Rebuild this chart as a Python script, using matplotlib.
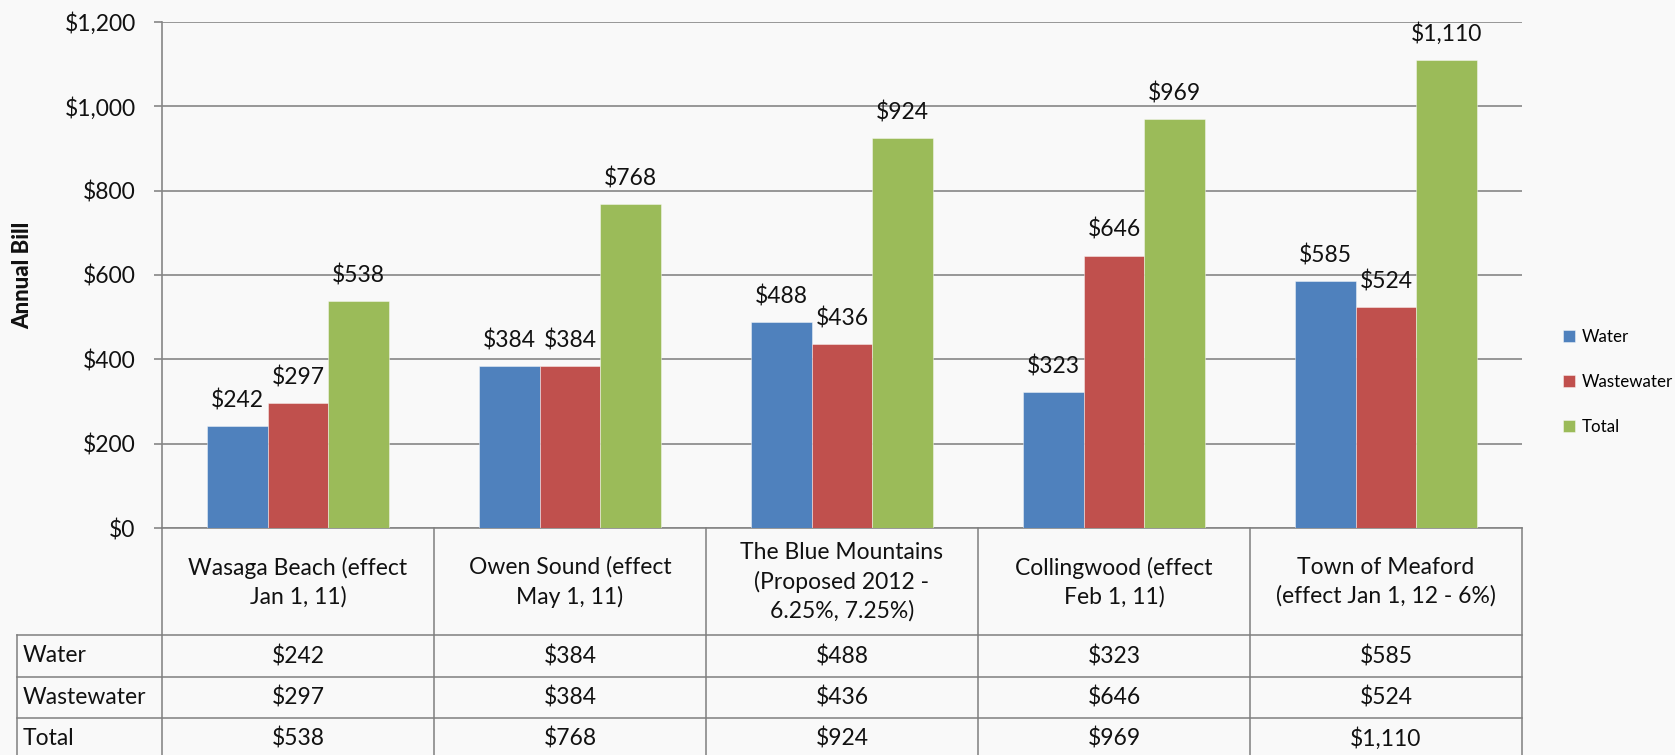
import matplotlib
matplotlib.use("Agg")
import matplotlib.pyplot as plt
import numpy as np

plt.rcParams['font.family'] = ['Lato', 'DejaVu Sans']

categories = ["Wasaga Beach (effect\nJan 1, 11)",
              "Owen Sound (effect\nMay 1, 11)",
              "The Blue Mountains\n(Proposed 2012 -\n6.25%, 7.25%)",
              "Collingwood (effect\nFeb 1, 11)",
              "Town of Meaford\n(effect Jan 1, 12 - 6%)"]
series_names = ["Water", "Wastewater", "Total"]
water = [242, 384, 488, 323, 585]
wastewater = [297, 384, 436, 646, 524]
total = [538, 768, 924, 969, 1110]
yticks = [0, 200, 400, 600, 800, 1000, 1200]

colors = ["#4F81BD", "#C0504D", "#9BBB59"]
bg = "#f9f9f9"
grid_c = "#868686"

W, H = 1675, 755
fig = plt.figure(figsize=(W / 100, H / 100), dpi=100, facecolor=bg)

# layout in pixels
ax_l, ax_r, ax_t, ax_b = 162, 1522, 22, 528
ax = fig.add_axes([ax_l / W, 1 - ax_b / H, (ax_r - ax_l) / W, (ax_b - ax_t) / H])
ax.set_facecolor(bg)

n = len(categories)
x = np.arange(n)
bw = 0.2224
all_series = [water, wastewater, total]
for i, (vals, c, name) in enumerate(zip(all_series, colors, series_names)):
    ax.bar(x + (i - 1) * bw, vals, width=bw, color=c, label=name,
           zorder=3, linewidth=0.6, edgecolor=(1, 1, 1, 0.5))
    for xi, v in zip(x + (i - 1) * bw, vals):
        ax.annotate("${:,}".format(v), (xi, v), xytext=(0, 13.5),
                    textcoords="offset points", ha="center", va="baseline",
                    fontsize=16.5, color="#111111", zorder=4)

ax.set_xlim(-0.5, n - 0.5)
ax.set_ylim(0, 1200)
ax.set_yticks(yticks)
ax.set_yticklabels(["${:,}".format(v) for v in yticks], fontsize=16.5, color="#111111")
ax.set_xticks([])
ax.yaxis.grid(True, color=grid_c, linewidth=1.2, zorder=0)
ax.set_axisbelow(True)
for s in ["top", "right"]:
    ax.spines[s].set_visible(False)
ax.spines["left"].set_color(grid_c)
ax.spines["left"].set_linewidth(1.2)
ax.spines["bottom"].set_color(grid_c)
ax.spines["bottom"].set_linewidth(1.2)
ax.tick_params(axis="y", length=6, width=1.2, color=grid_c, pad=13)

fig.text(23 / W, 1 - 275 / H, "Annual Bill", rotation=90, fontsize=16,
         fontweight="black", ha="center", va="center", color="#111111")

ax.legend(loc="center left", bbox_to_anchor=(1556 / W, 1 - 382 / H),
          bbox_transform=fig.transFigure, frameon=False, fontsize=12.2,
          handlelength=0.75, handleheight=0.75, handletextpad=0.35,
          labelspacing=1.7, borderaxespad=0)

# data table below
tab = fig.add_axes([0, 0, 1, 1], facecolor="none")
tab.set_xlim(0, W)
tab.set_ylim(H, 0)
tab.axis("off")
line_c = "#7f7f7f"
col_w = (ax_r - ax_l) / n
row_tops = [635, 677, 718, 759]
tab_left = 17
for y in row_tops:
    tab.plot([tab_left, ax_r], [y, y], color=line_c, lw=1.1, clip_on=False)
tab.plot([tab_left, tab_left], [row_tops[0], 760], color=line_c, lw=1.1, clip_on=False)
for k in range(n + 1):
    xe = ax_l + k * col_w
    tab.plot([xe, xe], [ax_b, 760], color=line_c, lw=1.1, clip_on=False)
for k, cat in enumerate(categories):
    xc = ax_l + (k + 0.5) * col_w
    tab.text(xc, 582, cat, ha="center", va="center", fontsize=16.5,
             linespacing=1.42, color="#111111")
for r, (name, vals) in enumerate(zip(series_names, all_series)):
    yc = (row_tops[r] + row_tops[r + 1]) / 2
    tab.text(23, yc, name, ha="left", va="center", fontsize=16.5, color="#111111")
    for k, v in enumerate(vals):
        xc = ax_l + (k + 0.5) * col_w
        tab.text(xc, yc, "${:,}".format(v), ha="center", va="center",
                 fontsize=16.5, color="#111111")

fig.savefig("out.png", dpi=100, facecolor=bg)
